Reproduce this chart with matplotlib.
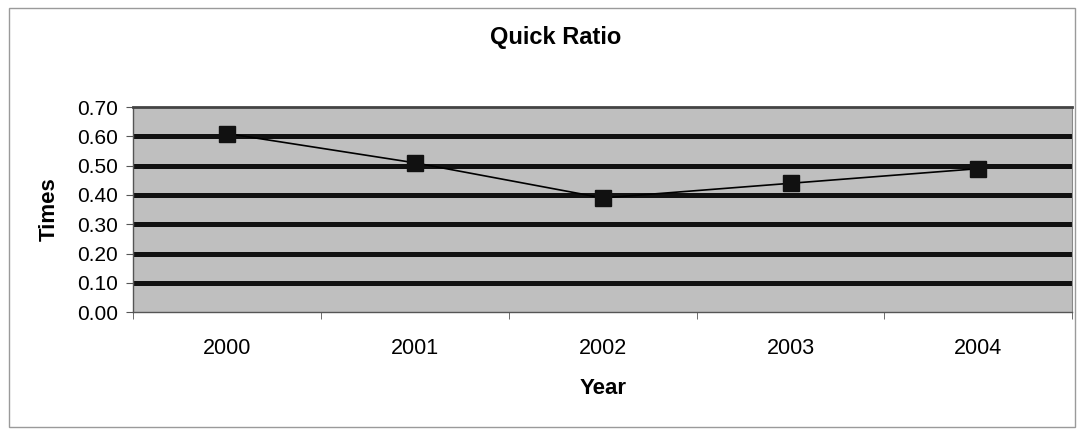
import matplotlib
matplotlib.use("Agg")
import matplotlib.pyplot as plt
from matplotlib.patches import Rectangle

years = ["2000", "2001", "2002", "2003", "2004"]
quick_ratio = [0.61, 0.51, 0.39, 0.44, 0.49]
y_ticks = [0.0, 0.1, 0.2, 0.3, 0.4, 0.5, 0.6, 0.7]

plt.rcParams['font.family'] = ['Liberation Sans', 'DejaVu Sans']

fig = plt.figure(figsize=(10.81, 4.34), dpi=100)
fig.patch.set_facecolor("white")
fig.add_artist(Rectangle((0.008, 0.017), 0.986, 0.965, transform=fig.transFigure,
                         fill=False, edgecolor="#9a9a9a", linewidth=1.0))

ax = fig.add_axes([0.123, 0.281, 0.869, 0.472])
ax.set_facecolor("#bfbfbf")
x = list(range(len(years)))
ax.set_xlim(-0.5, len(years) - 0.5)
ax.set_ylim(0, 0.70)

for v in y_ticks[1:-1]:
    ax.axhline(v, color="#111111", linewidth=3.6, zorder=1)

ax.plot(x, quick_ratio, color="black", linewidth=1.2, marker="s", markersize=12,
        markerfacecolor="#111111", markeredgecolor="#111111", zorder=3)

ax.set_yticks(y_ticks)
ax.set_yticklabels([f"{v:.2f}" for v in y_ticks], fontsize=15)
ax.set_xticks(x)
ax.set_xticklabels(years, fontsize=15.5)
ax.tick_params(axis="x", length=0, pad=19)
ax.set_xticks([i - 0.5 for i in range(len(years) + 1)], minor=True)
ax.tick_params(axis="x", which="minor", length=5, direction="out", color="#555555")
ax.tick_params(axis="y", length=5, direction="out", color="#555555", pad=6)

for s in ["left", "bottom"]:
    ax.spines[s].set_color("#555555")
    ax.spines[s].set_linewidth(1.0)
ax.spines["top"].set_color("#444444")
ax.spines["top"].set_linewidth(2.0)
ax.spines["right"].set_color("#888888")
ax.spines["right"].set_linewidth(0.8)

ax.set_xlabel("Year", fontsize=16, fontweight="bold")
ax.xaxis.label.set_va("center")
ax.xaxis.set_label_coords(0.5, -0.371)
ax.set_ylabel("Times", fontsize=16, fontweight="bold")
ax.yaxis.label.set_va("center")
ax.yaxis.set_label_coords(-0.0895, 0.5)
fig.text(0.514, 0.913, "Quick Ratio", ha="center", va="center", fontsize=17, fontweight="bold")

fig.savefig("out.png", dpi=100)
